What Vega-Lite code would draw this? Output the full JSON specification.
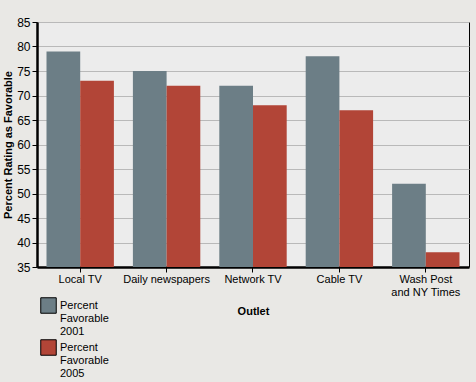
{
  "$schema": "https://vega.github.io/schema/vega-lite/v6.json",
  "width": 432,
  "height": 245,
  "autosize": {"type": "none"},
  "padding": {"left": 37, "top": 22, "right": 7, "bottom": 115},
  "background": "#e9e8e5",
  "data": {
    "values": [
      {"Outlet": "Local TV", "Series": "Percent Favorable 2001", "Value": 79},
      {"Outlet": "Local TV", "Series": "Percent Favorable 2005", "Value": 73},
      {"Outlet": "Daily newspapers", "Series": "Percent Favorable 2001", "Value": 75},
      {"Outlet": "Daily newspapers", "Series": "Percent Favorable 2005", "Value": 72},
      {"Outlet": "Network TV", "Series": "Percent Favorable 2001", "Value": 72},
      {"Outlet": "Network TV", "Series": "Percent Favorable 2005", "Value": 68},
      {"Outlet": "Cable TV", "Series": "Percent Favorable 2001", "Value": 78},
      {"Outlet": "Cable TV", "Series": "Percent Favorable 2005", "Value": 67},
      {"Outlet": "Wash Post and NY Times", "Series": "Percent Favorable 2001", "Value": 52},
      {"Outlet": "Wash Post and NY Times", "Series": "Percent Favorable 2005", "Value": 38}
    ]
  },
  "config": {
    "font": "Liberation Sans",
    "view": {"fill": "#ececec", "stroke": "#000000", "strokeWidth": 1}
  },
  "mark": {"type": "bar", "clip": true},
  "encoding": {
    "x": {
      "field": "Outlet",
      "type": "nominal",
      "sort": null,
      "scale": {"paddingInner": 0.22, "paddingOuter": 0.11},
      "axis": {
        "title": "Outlet",
        "titleFontSize": 11,
        "titleFontWeight": "bold",
        "titleColor": "#000000",
        "titlePadding": 8,
        "labelAngle": 0,
        "labelFontSize": 11,
        "labelColor": "#000000",
        "labelPadding": 1,
        "labelExpr": "datum.label == 'Wash Post and NY Times' ? ['Wash Post', 'and NY Times'] : datum.label",
        "labelLineHeight": 13,
        "tickColor": "#000000",
        "tickSize": 5,
        "domainColor": "#000000",
        "domainWidth": 2.5,
        "grid": false
      }
    },
    "xOffset": {"field": "Series", "type": "nominal"},
    "y": {
      "field": "Value",
      "type": "quantitative",
      "scale": {"domain": [35, 85], "nice": false, "zero": false},
      "axis": {
        "title": "Percent Rating as Favorable",
        "titleFontSize": 11,
        "titleFontWeight": "bold",
        "titleColor": "#000000",
        "titlePadding": 3,
        "values": [35, 40, 45, 50, 55, 60, 65, 70, 75, 80, 85],
        "labelFontSize": 12,
        "labelColor": "#000000",
        "labelPadding": 2,
        "tickColor": "#000000",
        "tickSize": 5,
        "domainColor": "#000000",
        "domainWidth": 2.5,
        "grid": true,
        "gridColor": "#b9b9b9",
        "gridWidth": 1
      }
    },
    "color": {
      "field": "Series",
      "type": "nominal",
      "scale": {"range": ["#6c7e86", "#b24537"]},
      "legend": {
        "orient": "none",
        "legendX": 3,
        "legendY": 275,
        "title": null,
        "symbolType": "square",
        "symbolSize": 240,
        "symbolStrokeColor": "#000000",
        "symbolStrokeWidth": 1,
        "symbolOpacity": 1,
        "labelFontSize": 11,
        "labelColor": "#000000",
        "labelExpr": "split(datum.label, ' ')",
        "labelLineHeight": 13,
        "labelOffset": 3,
        "rowPadding": 0
      }
    }
  }
}
